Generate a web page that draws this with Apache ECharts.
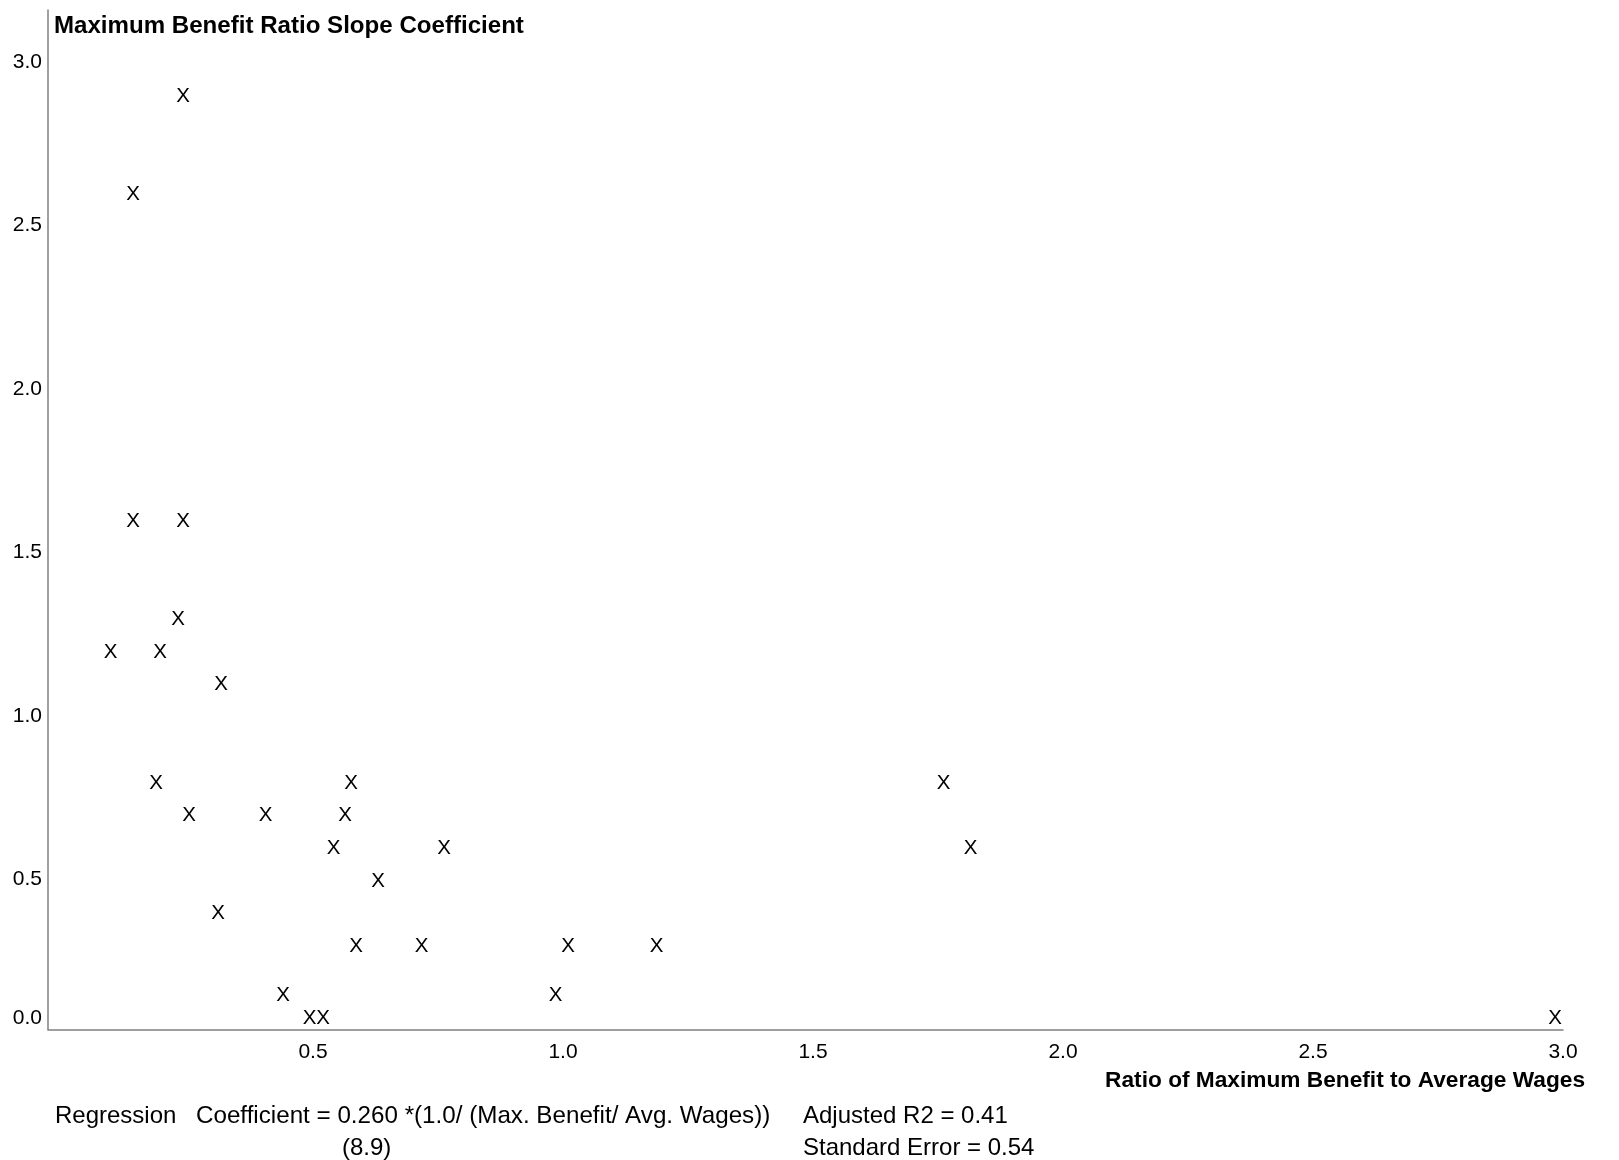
<!DOCTYPE html>
<html>
<head>
<meta charset="utf-8">
<script src="https://cdn.jsdelivr.net/npm/echarts@6/dist/echarts.min.js"></script>
<style>
  html, body { margin: 0; padding: 0; background: #fff; }
  #chart { width: 1619px; height: 1160px; }
</style>
</head>
<body>
<div id="chart"></div>
<script>
// ---- data ----
var ratioValues = [0.24, 0.14, 0.14, 0.24, 0.23, 0.095, 0.194, 0.316, 0.186, 0.576,
                   0.252, 0.405, 0.564, 0.541, 0.762, 0.63, 0.31, 0.586, 0.717, 1.01,
                   1.187, 0.44, 0.985, 0.493, 0.52, 1.761, 1.815, 2.984];
var slopeValues = [2.9, 2.6, 1.6, 1.6, 1.3, 1.2, 1.2, 1.1, 0.8, 0.8,
                   0.7, 0.7, 0.7, 0.6, 0.6, 0.5, 0.4, 0.3, 0.3, 0.3,
                   0.3, 0.15, 0.15, 0.08, 0.08, 0.8, 0.6, 0.08];
var yTickLabels = ['0.0', '0.5', '1.0', '1.5', '2.0', '2.5', '3.0'];
var xTickLabels = ['0.5', '1.0', '1.5', '2.0', '2.5', '3.0'];
var yAxisTitle = 'Maximum Benefit Ratio Slope Coefficient';
var xAxisTitle = 'Ratio of Maximum Benefit to Average Wages';
var noteLine1 = ['Regression', 'Coefficient = 0.260 *(1.0/ (Max. Benefit/ Avg. Wages))', 'Adjusted R2 = 0.41'];
var noteLine2 = ['(8.9)', 'Standard Error = 0.54'];

var FONT = '"Liberation Sans", Arial, Helvetica, sans-serif';
var X_MIN = -0.03, X_MAX = 3.0;
var Y_MIN = 0.0413, Y_MAX = 3.159;

var points = ratioValues.map(function (x, i) { return [x, slopeValues[i]]; });

function isHalfStep(v) {
  return Math.abs(v * 2 - Math.round(v * 2)) < 1e-6;
}
function fmtTick(v, labels) {
  var s = v.toFixed(1);
  return labels.indexOf(s) >= 0 ? s : '';
}

var chart = echarts.init(document.getElementById('chart'), null, { renderer: 'canvas' });

function noteTitle(text, left, top, size, bold) {
  return {
    text: text, left: left, top: top, padding: 0,
    textStyle: { fontFamily: FONT, fontSize: size, fontWeight: bold ? 'bold' : 'normal',
                 color: '#000', lineHeight: 24 }
  };
}

chart.setOption({
  backgroundColor: '#fff',
  animation: false,
  title: [
    noteTitle(yAxisTitle, 54, 14, 24.1, true),
    noteTitle(noteLine1[0], 55, 1104, 24),
    noteTitle(noteLine1[1], 196, 1104, 24.2),
    noteTitle(noteLine1[2], 803, 1104, 24),
    noteTitle(noteLine2[0], 342, 1136, 24),
    noteTitle(noteLine2[1], 803, 1136, 24)
  ],
  grid: { left: 48, right: 56, top: 10, bottom: 130.5, containLabel: false },
  xAxis: {
    type: 'value', min: X_MIN, max: X_MAX, splitNumber: 6,
    minInterval: 0.5, maxInterval: 0.5,
    axisLine: { show: true, onZero: false, lineStyle: { color: '#808080', width: 1.5 } },
    axisTick: { show: false },
    splitLine: { show: false },
    axisLabel: {
      show: true, margin: 12, color: '#000', fontFamily: FONT, fontSize: 21,
      showMinLabel: true, showMaxLabel: true,
      formatter: function (v) { return (v > 0 && isHalfStep(v)) ? fmtTick(v, xTickLabels) : ''; }
    },
    name: xAxisTitle, nameLocation: 'end', nameGap: 22,
    nameTextStyle: { fontFamily: FONT, fontSize: 22.7, fontWeight: 'bold', color: '#000',
                     align: 'right', verticalAlign: 'top', padding: [40, 0, 0, 0] }
  },
  yAxis: {
    type: 'value', min: Y_MIN, max: Y_MAX, splitNumber: 6,
    minInterval: 0.5, maxInterval: 0.5,
    axisLine: { show: true, onZero: false, lineStyle: { color: '#808080', width: 1.5 } },
    axisTick: { show: false },
    splitLine: { show: false },
    axisLabel: {
      show: true, margin: 6, color: '#000', fontFamily: FONT, fontSize: 21,
      showMinLabel: true, showMaxLabel: true,
      formatter: function (v) {
        if (Math.abs(v - Y_MIN) < 1e-6) { return '{lift|' + yTickLabels[0] + '}'; }
        return (v > 0 && isHalfStep(v)) ? fmtTick(v, yTickLabels) : '';
      },
      rich: {
        lift: { fontFamily: FONT, fontSize: 21, color: '#000', padding: [0, 0, 22, 0] }
      }
    }
  },
  series: [{
    type: 'scatter',
    data: points,
    symbol: 'circle',
    symbolSize: 2,
    itemStyle: { color: 'rgba(255,255,255,0)' },
    clip: false,
    label: {
      show: true, position: 'inside', formatter: 'X', offset: [0, 1.5],
      fontFamily: FONT, fontSize: 20.5, color: '#000', opacity: 1
    },
    emphasis: { disabled: true }
  }]
});
</script>
</body>
</html>
